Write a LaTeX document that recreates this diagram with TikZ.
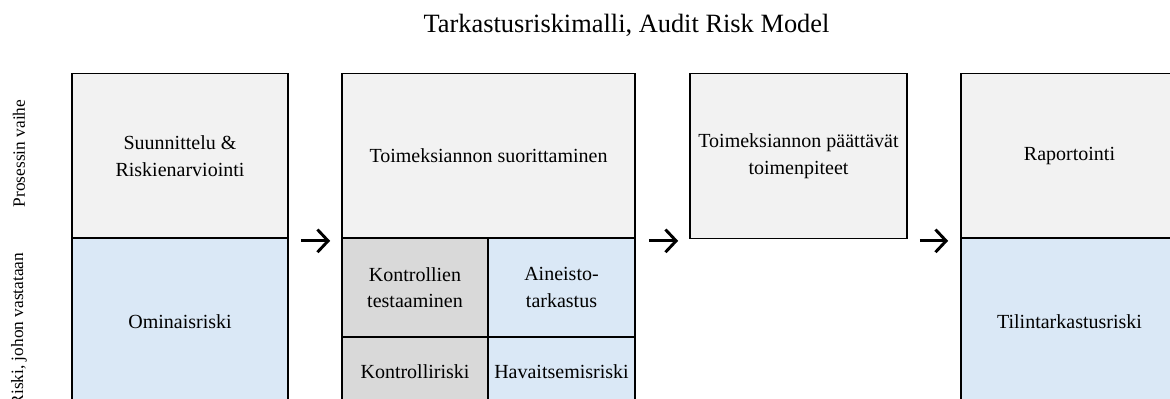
\documentclass[tikz,border=0pt]{standalone}
\usepackage{fontspec}
\setmainfont{Liberation Serif}
\usetikzlibrary{arrows.meta,calc}
\definecolor{topgray}{HTML}{F2F2F2}
\definecolor{midgray}{HTML}{D9D9D9}
\definecolor{riskblue}{HTML}{DAE8F6}
\begin{document}
\begin{tikzpicture}[x=0.75pt,y=-0.75pt,
  cell/.style={draw=black,line width=1.3pt,inner sep=0pt,align=center,
    font=\fontsize{15}{20}\selectfont},
  phase/.style={cell,fill=topgray},
  ctrl/.style={cell,fill=midgray},
  risk/.style={cell,fill=riskblue},
  box/.style 2 args={minimum width=#1*0.75pt,minimum height=#2*0.75pt},
  sidelabel/.style={rotate=90,font=\fontsize{13}{16}\selectfont,inner sep=0pt},
  flow/.style={line width=2.2pt,-{Straight Barb[length=8pt,width=17pt]}}]
\useasboundingbox (0,0) rectangle (1170,399);
\clip (0,0) rectangle (1170,399);

\node[anchor=base,font=\fontsize{19.8}{24}\selectfont] (title) at (626.5,33) {Tarkastusriskimalli, Audit Risk Model};

\node[sidelabel] (lab1) at (19,153.5) {Prosessin vaihe};
\node[sidelabel] (lab2) at (19,329.5) {Riski, johon vastataan};

\node[phase,box={216}{165}] (p1) at (180,156) {Suunnittelu \&\\Riskienarviointi};
\node[risk,box={216}{168}] (r1) at (180,322) {Ominaisriski};

\node[phase,box={293}{165}] (p2) at (488.5,156) {Toimeksiannon suorittaminen};
\node[ctrl,box={146}{99}] (c1) at (415,287.5) {Kontrollien\\testaaminen};
\node[risk,box={147}{99}] (c2) at (561.5,287.5) {Aineisto-\\tarkastus};
\node[ctrl,box={146}{69}] (c3) at (415,371.5) {Kontrolliriski};
\node[risk,box={147}{69}] (c4) at (561.5,371.5) {Havaitsemisriski};

\node[phase,box={217}{165}] (p3) at (798.5,156) {Toimeksiannon päättävät\\toimenpiteet};

\node[phase,box={217}{165}] (p4) at (1069.5,156) {Raportointi};
\node[risk,box={217}{168}] (r4) at (1069.5,322) {Tilintarkastusriski};

\draw[flow] ($(p1.south east)+(12,1.5)$) -- ($(p2.south west)+(-11,1.5)$);
\draw[flow] ($(p2.south east)+(13,1.5)$) -- ($(p3.south west)+(-11,1.5)$);
\draw[flow] ($(p3.south east)+(12,1.5)$) -- ($(p4.south west)+(-12,1.5)$);
\end{tikzpicture}
\end{document}
